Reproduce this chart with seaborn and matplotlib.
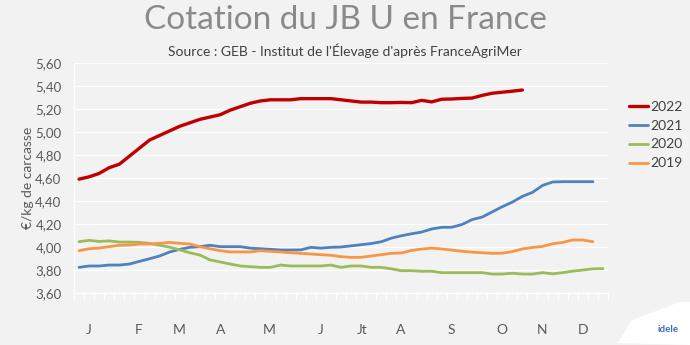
import numpy as np
import pandas as pd
import matplotlib
matplotlib.use("Agg")
import matplotlib.pyplot as plt
import seaborn as sns
from matplotlib.ticker import FuncFormatter, FixedLocator
from matplotlib.patches import Polygon

# ---------------- data ----------------
months = ["J", "F", "M", "A", "M", "J", "Jt", "A", "S", "O", "N", "D"]
month_pos = [0.99, 5.95, 9.92, 14.08, 18.85, 24.0, 28.07, 31.94, 36.9, 41.96, 45.93, 50.0]

y2022 = [4.59, 4.61, 4.64, 4.69, 4.72, 4.79, 4.86, 4.93, 4.97, 5.01, 5.05, 5.08, 5.11, 5.13,
         5.15, 5.19, 5.22, 5.25, 5.27, 5.28, 5.28, 5.28, 5.29, 5.29, 5.29, 5.29, 5.28, 5.27,
         5.26, 5.26, 5.255, 5.255, 5.257, 5.255, 5.275, 5.262, 5.285, 5.287, 5.292, 5.295,
         5.318, 5.337, 5.346, 5.355, 5.365]
y2021 = [3.823, 3.835, 3.835, 3.843, 3.843, 3.852, 3.875, 3.898, 3.922, 3.957, 3.98, 3.997,
         4.003, 4.015, 4.003, 4.003, 4.003, 3.99, 3.985, 3.98, 3.974, 3.974, 3.975, 3.997,
         3.99, 3.997, 4.0, 4.01, 4.02, 4.03, 4.046, 4.077, 4.098, 4.115, 4.13, 4.157, 4.171,
         4.172, 4.195, 4.238, 4.26, 4.305, 4.35, 4.39, 4.44, 4.475, 4.535, 4.565, 4.568,
         4.568, 4.568, 4.568]
y2020 = [4.046, 4.058, 4.048, 4.053, 4.043, 4.043, 4.04, 4.032, 4.015, 3.998, 3.975, 3.95,
         3.93, 3.888, 3.87, 3.852, 3.835, 3.829, 3.823, 3.823, 3.843, 3.835, 3.835, 3.835,
         3.835, 3.843, 3.823, 3.835, 3.835, 3.823, 3.823, 3.81, 3.794, 3.794, 3.789, 3.789,
         3.777, 3.777, 3.777, 3.777, 3.777, 3.765, 3.765, 3.772, 3.765, 3.765, 3.777, 3.767,
         3.777, 3.79, 3.8, 3.81, 3.812]
y2019 = [3.968, 3.985, 3.991, 4.003, 4.015, 4.017, 4.026, 4.026, 4.032, 4.04, 4.032, 4.026,
         4.003, 3.985, 3.968, 3.957, 3.957, 3.957, 3.968, 3.962, 3.957, 3.95, 3.945, 3.939,
         3.933, 3.928, 3.916, 3.91, 3.91, 3.922, 3.933, 3.945, 3.948, 3.97, 3.982, 3.99,
         3.983, 3.973, 3.963, 3.955, 3.95, 3.945, 3.946, 3.96, 3.983, 3.996, 4.005, 4.028,
         4.04, 4.061, 4.061, 4.046]

series = [("2022", y2022, "#c00000", 2.4),
          ("2021", y2021, "#4f81bd", 2.0),
          ("2020", y2020, "#9bbb59", 2.0),
          ("2019", y2019, "#f79646", 2.0)]

# ---------------- figure ----------------
sns.set_theme(style="white")
plt.rcParams["font.family"] = ["Lato", "DejaVu Sans"]

BG = "#f2f2f2"
fig = plt.figure(figsize=(6.9, 3.45), dpi=100, facecolor=BG)
ax = fig.add_axes([74 / 690, 1 - 293 / 345, 534 / 690, 230 / 345])
ax.set_facecolor(BG)

for name, vals, col, lw in series:
    df = pd.DataFrame({"week": np.arange(len(vals)), "value": vals})
    sns.lineplot(data=df, x="week", y="value", color=col, linewidth=lw,
                 label=name, ax=ax, solid_capstyle="round")

ax.set_xlim(-0.5, 52.5)
ax.set_ylim(3.6, 5.6)
ax.set_yticks(np.arange(3.6, 5.61, 0.2))
ax.yaxis.set_major_formatter(FuncFormatter(lambda v, p: f"{v:.2f}".replace(".", ",")))
ax.grid(axis="y", color="white", linewidth=0.9)
ax.set_axisbelow(True)

ax.set_xticks(month_pos)
ax.set_xticklabels(months)
ax.xaxis.set_minor_locator(FixedLocator(np.arange(-0.5, 53, 1.0)))
ax.tick_params(axis="x", which="major", length=0, pad=22, labelsize=10, labelcolor="#595959")
ax.tick_params(axis="x", which="minor", length=4, width=0.8, color="white", bottom=True)
ax.tick_params(axis="y", length=0, pad=9, labelsize=9.5, labelcolor="#595959")

for s in ["top", "right"]:
    ax.spines[s].set_visible(False)
for s in ["left", "bottom"]:
    ax.spines[s].set_color("white")
    ax.spines[s].set_linewidth(1.0)

ax.set_xlabel("")
ax.set_ylabel("€/kg de carcasse", fontsize=10, color="#595959", labelpad=1)

leg = ax.legend(loc="center left", bbox_to_anchor=(622 / 690, 1 - 135 / 345),
                bbox_transform=fig.transFigure, frameon=False, fontsize=10,
                handlelength=1.4, handletextpad=0.15, labelspacing=0.5, borderpad=0)
for t in leg.get_texts():
    t.set_color("#404040")

fig.text(0.5, 1 - 20 / 345, "Cotation du JB U en France", ha="center", va="center",
         fontsize=24, color="#8a8a8a")
fig.text(0.5, 1 - 51 / 345, "Source : GEB - Institut de l'Élevage d'après FranceAgriMer",
         ha="center", va="center", fontsize=10, color="#404040")

# logo placeholder shape
logo = Polygon([[618 / 690, 1 - 343 / 345], [632 / 690, 1 - 320 / 345], [680 / 690, 1 - 302 / 345],
                [690 / 690, 1 - 302 / 345], [690 / 690, 1 - 345 / 345]],
               closed=True, transform=fig.transFigure, facecolor="white", edgecolor="none")
fig.patches.append(logo)
fig.text(668 / 690, 1 - 329 / 345, "idele", ha="center", va="center", fontsize=7,
         fontweight="bold", color="#3b6db3")

fig.savefig("out.png", dpi=100, facecolor=BG)
